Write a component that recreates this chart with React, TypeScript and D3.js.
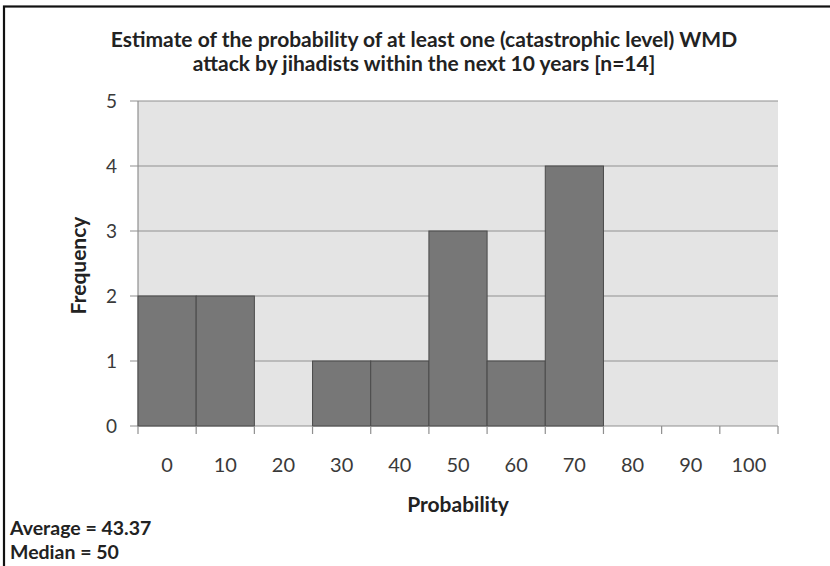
import React from "react";
import * as d3 from "d3";

const categories = ["0", "10", "20", "30", "40", "50", "60", "70", "80", "90", "100"];
const frequencies = [2, 2, 0, 1, 1, 3, 1, 4, 0, 0, 0];
const yTicks = [0, 1, 2, 3, 4, 5];
const titleLines = [
  "Estimate of the probability of at least one (catastrophic level) WMD",
  "attack by jihadists within the next 10 years [n=14]",
];
const xAxisTitle = "Probability";
const yAxisTitle = "Frequency";
const notes = ["Average = 43.37", "Median = 50"];

const W = 830;
const H = 566;
const plot = { left: 138, right: 778, top: 101, bottom: 426 };
const FONT = "Lato, 'Open Sans', sans-serif";

export default function App() {
  const x = d3
    .scaleBand<string>()
    .domain(categories)
    .range([plot.left, plot.right])
    .paddingInner(0)
    .paddingOuter(0);
  const y = d3.scaleLinear().domain([0, 5]).range([plot.bottom, plot.top]);
  const bw = x.bandwidth();
  const boundaries = d3.range(categories.length + 1).map((i) => plot.left + i * bw);

  return (
    <svg
      width={W}
      height={H}
      style={{ position: "absolute", left: 0, top: 0, background: "#fff" }}
    >
      <rect x={0} y={0} width={W} height={H} fill="#fff" />
      <rect x={4} y={6.5} width={W + 20} height={H + 20} fill="none" stroke="#111" strokeWidth={2.2} />

      {/* plot background */}
      <rect
        x={plot.left}
        y={plot.top}
        width={plot.right - plot.left}
        height={plot.bottom - plot.top}
        fill="#e4e4e4"
      />
      {/* gridlines */}
      {yTicks.map((t) => (
        <line
          key={"g" + t}
          x1={plot.left - 8}
          x2={plot.right}
          y1={y(t)}
          y2={y(t)}
          stroke="#8f8f8f"
          strokeWidth={1.2}
        />
      ))}
      {/* y axis line */}
      <line x1={plot.left} x2={plot.left} y1={plot.top} y2={plot.bottom} stroke="#8f8f8f" strokeWidth={1.2} />

      {/* bars */}
      {categories.map((c, i) =>
        frequencies[i] > 0 ? (
          <rect
            key={"b" + c}
            x={x(c)!}
            y={y(frequencies[i])}
            width={bw}
            height={y(0) - y(frequencies[i])}
            fill="#777777"
            stroke="#4a4a4a"
            strokeWidth={1}
          />
        ) : null
      )}

      {/* x ticks */}
      {boundaries.map((b, i) => (
        <line
          key={"xt" + i}
          x1={b}
          x2={b}
          y1={plot.bottom}
          y2={plot.bottom + 8}
          stroke="#8f8f8f"
          strokeWidth={1.2}
        />
      ))}

      {/* y tick labels */}
      {yTicks.map((t) => (
        <text
          key={"yl" + t}
          x={117}
          y={y(t)}
          dy="0.36em"
          textAnchor="end"
          fontFamily={FONT}
          fontSize={19}
          fill="#3a3a3a"
        >
          {t}
        </text>
      ))}

      {/* x tick labels */}
      {categories.map((c) => (
        <text
          key={"xl" + c}
          x={x(c)! + bw / 2}
          y={472}
          textAnchor="middle"
          fontFamily={FONT}
          fontSize={20}
          fill="#3a3a3a"
        >
          {c}
        </text>
      ))}

      {/* titles */}
      {titleLines.map((l, i) => (
        <text
          key={"t" + i}
          x={424}
          y={47 + i * 24}
          textAnchor="middle"
          fontFamily={FONT}
          fontWeight="bold"
          fontSize={21}
          fill="#222"
        >
          {l}
        </text>
      ))}
      <text
        x={(plot.left + plot.right) / 2}
        y={512}
        textAnchor="middle"
        fontFamily={FONT}
        fontWeight="bold"
        fontSize={21}
        fill="#222"
      >
        {xAxisTitle}
      </text>
      <text
        transform={`translate(86, ${(plot.top + plot.bottom) / 2 + 2}) rotate(-90)`}
        textAnchor="middle"
        fontFamily={FONT}
        fontWeight="bold"
        fontSize={21}
        fill="#222"
      >
        {yAxisTitle}
      </text>

      {notes.map((n, i) => (
        <text
          key={"n" + i}
          x={10}
          y={535 + i * 24}
          fontFamily={FONT}
          fontWeight="bold"
          fontSize={19.5}
          fill="#222"
        >
          {n}
        </text>
      ))}
    </svg>
  );
}
